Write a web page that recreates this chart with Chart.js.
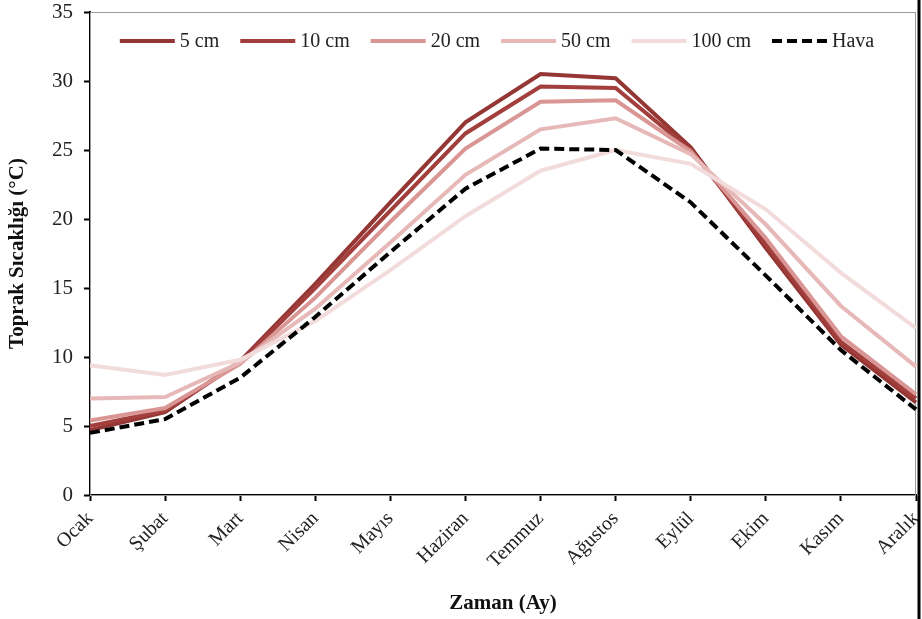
<!DOCTYPE html>
<html>
<head>
<meta charset="utf-8">
<script src="https://cdn.jsdelivr.net/npm/chart.js@4.4.1/dist/chart.umd.min.js"></script>
<style>
  body { margin: 0; background: #fff; }
  canvas { display: block; }
</style>
</head>
<body>
<canvas id="soilChart" width="922" height="619"></canvas>
<script>
// aylar
const months = ['Ocak', 'Şubat', 'Mart', 'Nisan', 'Mayıs', 'Haziran', 'Temmuz', 'Ağustos', 'Eylül', 'Ekim', 'Kasım', 'Aralık'];

// derinliklere gore toprak sicakligi (°C)
const cm5   = [4.7, 6.0, 9.7, 15.3, 21.2, 27.0, 30.5, 30.2, 25.2, 17.9, 10.9, 6.7];
const cm10  = [5.0, 6.1, 9.6, 15.0, 20.6, 26.2, 29.6, 29.5, 25.0, 18.2, 11.1, 7.0];
const cm20  = [5.4, 6.3, 9.5, 14.3, 19.8, 25.1, 28.5, 28.6, 24.9, 18.6, 11.5, 7.3];
const cm50  = [7.0, 7.1, 9.6, 13.5, 18.3, 23.2, 26.5, 27.3, 24.7, 19.6, 13.7, 9.3];
const cm100 = [9.4, 8.7, 9.8, 12.6, 16.3, 20.2, 23.5, 25.0, 24.0, 20.7, 16.1, 12.1];
const hava  = [4.5, 5.5, 8.5, 12.9, 17.6, 22.2, 25.1, 25.0, 21.2, 15.9, 10.5, 6.2];

const seriesNames = ['5 cm', '10 cm', '20 cm', '50 cm', '100 cm', 'Hava'];
const seriesColors = ['#943634', '#a23f3c', '#d99694', '#e6b9b8', '#f2dcdb', '#000000'];
const yTicks = [0, 5, 10, 15, 20, 25, 30, 35];

const serif = "'Liberation Serif', 'Times New Roman', serif";

// marco del area y borde derecho
const framePlugin = {
    id: 'frame',
    beforeDatasetsDraw(chart) {
        const a = chart.chartArea;
        const ctx = chart.ctx;
        ctx.save();
        ctx.strokeStyle = '#9a9a9a';
        ctx.lineWidth = 1;
        ctx.strokeRect(a.left + 0.5, a.top + 0.5, a.right - a.left - 1, a.bottom - a.top);
        ctx.restore();
    },
    afterDraw(chart) {
        const ctx = chart.ctx;
        ctx.save();
        ctx.strokeStyle = '#000';
        ctx.lineWidth = 3;
        ctx.beginPath();
        ctx.moveTo(chart.width - 3, 0);
        ctx.lineTo(chart.width - 3, chart.height);
        ctx.stroke();
        ctx.restore();
    }
};

// leyenda horizontal dentro del area
const legendPlugin = {
    id: 'inLegend',
    afterDatasetsDraw(chart) {
        const ctx = chart.ctx;
        const a = chart.chartArea;
        const lineLen = 55, textGap = 5, itemGap = 21, yc = 41;
        ctx.save();
        ctx.font = '20px ' + serif;
        ctx.textBaseline = 'middle';
        ctx.textAlign = 'left';
        const widths = chart.data.datasets.map(ds => lineLen + textGap + ctx.measureText(ds.label).width);
        const total = widths.reduce((s, w) => s + w, 0) + itemGap * (widths.length - 1);
        let x = (a.left + a.right) / 2 - total / 2 - 6;
        chart.data.datasets.forEach((ds, i) => {
            ctx.strokeStyle = ds.borderColor;
            ctx.lineWidth = ds.borderWidth;
            ctx.setLineDash(ds.borderDash || []);
            ctx.beginPath();
            ctx.moveTo(x, yc);
            ctx.lineTo(x + lineLen, yc);
            ctx.stroke();
            ctx.setLineDash([]);
            ctx.fillStyle = '#222';
            ctx.fillText(ds.label, x + lineLen + textGap, yc + 1);
            x += widths[i] + itemGap;
        });
        ctx.restore();
    }
};

const allData = [cm5, cm10, cm20, cm50, cm100, hava];

const datasets = allData.map((d, i) => ({
    label: seriesNames[i],
    data: d,
    borderColor: seriesColors[i],
    backgroundColor: seriesColors[i],
    borderWidth: 4,
    borderDash: i === 5 ? [10, 5] : [],
    pointRadius: 0,
    tension: 0,
    fill: false,
    order: 6 - i
}));

new Chart(document.getElementById('soilChart').getContext('2d'), {
    type: 'line',
    data: { labels: months, datasets: datasets },
    options: {
        responsive: false,
        animation: false,
        devicePixelRatio: 1,
        layout: { padding: { left: 0, top: 12, right: 6, bottom: 0 } },
        plugins: {
            tooltip: { enabled: false },
            legend: { display: false }
        },
        scales: {
            x: {
                offset: false,
                afterFit(scale) {
                    scale.height = 124;
                    scale.paddingLeft = 0;
                    scale.paddingRight = 0;
                },
                grid: { display: true, drawOnChartArea: false, drawTicks: true, tickLength: 6, tickColor: '#000', tickWidth: 2 },
                border: { color: '#000', width: 2 },
                ticks: {
                    color: '#222',
                    font: { family: serif, size: 20 },
                    minRotation: 45,
                    maxRotation: 45,
                    padding: 6,
                    autoSkip: false
                },
                title: {
                    display: true,
                    text: 'Zaman (Ay)',
                    color: '#111',
                    font: { family: serif, size: 21, weight: 'bold' },
                    padding: { top: 0, bottom: 3 }
                }
            },
            y: {
                min: 0,
                max: 35,
                afterFit(scale) {
                    scale.width = 90;
                    scale.paddingTop = 0;
                    scale.paddingBottom = 0;
                },
                afterBuildTicks(scale) { scale.ticks = yTicks.map(v => ({ value: v })); },
                grid: { display: true, drawOnChartArea: false, drawTicks: true, tickLength: 6, tickColor: '#000', tickWidth: 2 },
                border: { color: '#000', width: 2 },
                ticks: {
                    color: '#222',
                    font: { family: serif, size: 21 },
                    padding: 11
                },
                title: {
                    display: true,
                    text: 'Toprak Sıcaklığı (°C)',
                    color: '#111',
                    font: { family: serif, size: 21, weight: 'bold' },
                    padding: { top: 5, bottom: 0 }
                }
            }
        }
    },
    plugins: [framePlugin, legendPlugin]
});
</script>
</body>
</html>
